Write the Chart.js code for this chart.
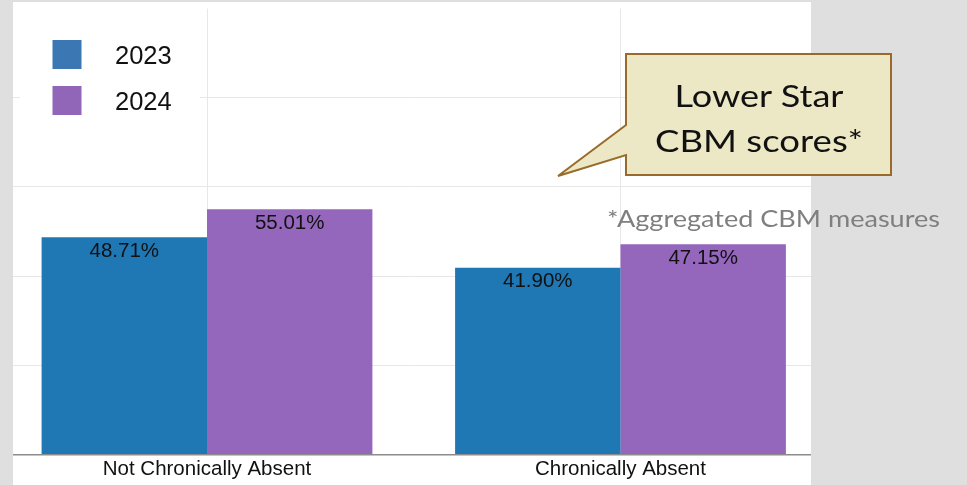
<!DOCTYPE html>
<html>
<head>
<meta charset="utf-8">
<script src="https://cdn.jsdelivr.net/npm/chart.js@4/dist/chart.umd.min.js"></script>
<style>
  html, body { margin: 0; padding: 0; }
  body { width: 967px; height: 485px; background: #dfdfdf; position: relative; overflow: hidden; }
  #panel { position: absolute; left: 13px; top: 2px; width: 798px; height: 483px; background: #fff; overflow: hidden; }
  #chart { position: absolute; left: -13px; top: -2px; }
  #notes { position: absolute; left: 0; top: 0; pointer-events: none; }
</style>
</head>
<body>
<div id="panel"><canvas id="chart" width="840" height="485"></canvas></div>
<svg id="notes" width="967" height="485" xmlns="http://www.w3.org/2000/svg">
  <path d="M626,54 H891 V175 H626 V155 L558,176 L626,125 Z" fill="#ece8c6" stroke="#9a6a2b" stroke-width="2" stroke-linejoin="miter"/>
  <text x="759" y="106.5" text-anchor="middle" font-family="Lato, 'Noto Sans', sans-serif" font-size="30" fill="#111" textLength="169" lengthAdjust="spacingAndGlyphs">Lower Star</text>
  <text x="759" y="151.5" text-anchor="middle" font-family="Lato, 'Noto Sans', sans-serif" font-size="30" fill="#111" textLength="208" lengthAdjust="spacingAndGlyphs">CBM scores*</text>
  <text x="607" y="226.5" font-family="Lato, 'Noto Sans', sans-serif" font-size="23" fill="#7f7f7f" textLength="333" lengthAdjust="spacingAndGlyphs">*Aggregated CBM measures</text>
</svg>
<script>
const categories = ['Not Chronically Absent', 'Chronically Absent'];
const seriesLabels = ['2023', '2024'];
const values2023 = [48.71, 41.90];
const values2024 = [55.01, 47.15];
const barColors = ['#1f77b4', '#9467bd'];
const legendColors = ['#3a77b3', '#9166b9'];

const labelFont = '20.5px "Liberation Sans", Arial, sans-serif';

// Percent labels just inside the top of each bar
const valueLabels = {
  id: 'valueLabels',
  afterDatasetsDraw(chart) {
    const ctx = chart.ctx;
    ctx.save();
    ctx.font = labelFont;
    ctx.fillStyle = '#111';
    ctx.textAlign = 'center';
    ctx.textBaseline = 'middle';
    chart.data.datasets.forEach((ds, i) => {
      chart.getDatasetMeta(i).data.forEach((bar, j) => {
        ctx.fillText(ds.data[j].toFixed(2) + '%', bar.x, bar.y + 14);
      });
    });
    ctx.restore();
  }
};

// Boxed legend in the upper-left corner of the plot
const cornerLegend = {
  id: 'cornerLegend',
  afterDraw(chart) {
    const ctx = chart.ctx;
    ctx.save();
    ctx.fillStyle = '#fff';
    ctx.fillRect(20, 22, 180, 108);
    ctx.font = '25.5px "Liberation Sans", Arial, sans-serif';
    ctx.textAlign = 'left';
    ctx.textBaseline = 'middle';
    chart.data.datasets.forEach((ds, i) => {
      const cy = 54.5 + i * 46;
      ctx.fillStyle = legendColors[i];
      ctx.fillRect(52.5, cy - 14.5, 29, 29);
      ctx.fillStyle = '#111';
      ctx.fillText(ds.label, 115, cy + 2.5);
    });
    ctx.restore();
  }
};

new Chart(document.getElementById('chart'), {
  type: 'bar',
  data: {
    labels: categories,
    datasets: [
      { label: seriesLabels[0], data: values2023, backgroundColor: barColors[0] },
      { label: seriesLabels[1], data: values2024, backgroundColor: barColors[1] }
    ]
  },
  options: {
    responsive: false,
    animation: false,
    layout: { padding: { left: 0.25, right: 12.75, top: 8.6, bottom: 0 } },
    datasets: { bar: { categoryPercentage: 0.8, barPercentage: 1.0, borderWidth: 0 } },
    plugins: { legend: { display: false }, tooltip: { enabled: false } },
    scales: {
      x: {
        grid: { offset: false, color: '#e7e7e7', lineWidth: 1, drawTicks: false },
        border: { display: true, color: '#8c8c8c', width: 1.5 },
        ticks: { color: '#111', padding: 2.5, font: { family: '"Liberation Sans", Arial, sans-serif', size: 20.5 } },
        afterFit(scale) { scale.height = 30.5; }
      },
      y: {
        min: 0,
        max: 100,
        ticks: { display: false, stepSize: 20 },
        grid: {
          drawTicks: false,
          color: (c) => (c.tick && (c.tick.value === 0 || c.tick.value === 100)) ? 'rgba(0,0,0,0)' : '#e7e7e7'
        },
        border: { display: false },
        afterFit(scale) { scale.width = 0; }
      }
    }
  },
  plugins: [valueLabels, cornerLegend]
});
</script>
</body>
</html>
